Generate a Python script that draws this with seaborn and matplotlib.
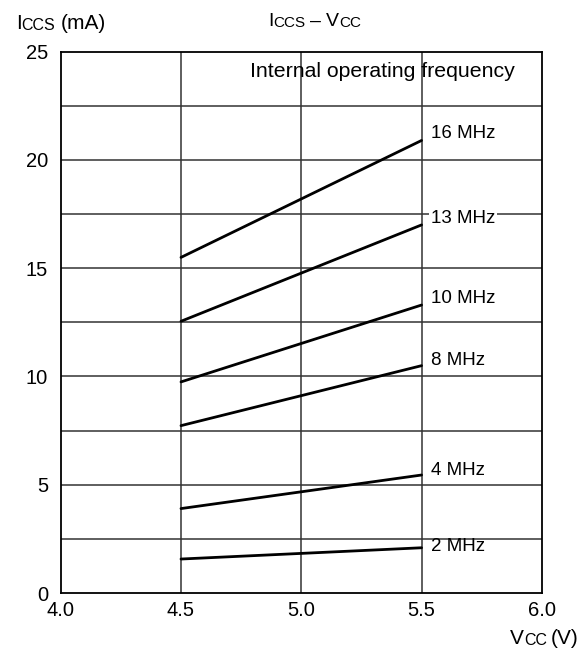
import numpy as np
import pandas as pd
import seaborn as sns
import matplotlib.pyplot as plt

# Данные
vcc = [4.5, 5.5]
freq_labels = ["16 MHz", "13 MHz", "10 MHz", "8 MHz", "4 MHz", "2 MHz"]
iccs_start = [15.5, 12.55, 9.75, 7.73, 3.9, 1.57]
iccs_end = [20.9, 17.0, 13.3, 10.5, 5.45, 2.09]
label_y = [21.2, 17.3, 13.6, 10.75, 5.65, 2.14]

x_ticks = [4.0, 4.5, 5.0, 5.5, 6.0]
y_ticks = [0, 5, 10, 15, 20, 25]

rows = []
for name, a, b in zip(freq_labels, iccs_start, iccs_end):
    rows.append({"Vcc": vcc[0], "Iccs": a, "freq": name})
    rows.append({"Vcc": vcc[1], "Iccs": b, "freq": name})
df = pd.DataFrame(rows)

sns.set_style("white")
plt.rcParams['font.family'] = ['Liberation Sans', 'DejaVu Sans']
plt.rcParams['text.color'] = 'black'


def rich_text(fig, x, y, parts):
    """Текст из кусков разного размера (подстрочные CC, CCS).
    parts: (строка, размер, отступ слева в пунктах)"""
    s0, size0, _ = parts[0]
    t = fig.text(x, y, s0, fontsize=size0, ha="left", va="bottom")
    for s, size, gap in parts[1:]:
        t = fig.add_artist(plt.Annotation(s, xy=(1, 0), xycoords=t,
                                          xytext=(gap, 0), textcoords="offset points",
                                          fontsize=size, ha="left", va="bottom"))
    return t


fig = plt.figure(figsize=(5.82, 6.56), dpi=100)
ax = fig.add_axes([0.1043, 0.096, 0.931 - 0.1043, 0.9212 - 0.096])

# сетка
for gx in [4.5, 5.0, 5.5]:
    ax.axvline(gx, color="#333333", lw=1.1, zorder=1)
for gy in np.arange(2.5, 25, 2.5):
    ax.axhline(gy, color="#333333", lw=1.1, zorder=1)

sns.lineplot(data=df, x="Vcc", y="Iccs", hue="freq",
             palette=["black"] * len(freq_labels), lw=2.0,
             legend=False, ax=ax, zorder=3)

for name, ly in zip(freq_labels, label_y):
    bbox = None
    if name == "13 MHz":
        bbox = dict(facecolor="white", edgecolor="none", pad=1.5)
    ax.text(5.54, ly, name, fontsize=13.5, ha="left", va="center",
            bbox=bbox, zorder=4)

ax.text(4.785, 24.1, "Internal operating frequency", fontsize=15.3,
        ha="left", va="center", zorder=4)

ax.set_xlim(4.0, 6.0)
ax.set_ylim(0, 25)
ax.set_xticks(x_ticks)
ax.set_xticklabels([f"{v:.1f}" for v in x_ticks])
ax.set_yticks(y_ticks)
ax.tick_params(axis="both", length=0, labelsize=14.5, colors="black")
ax.tick_params(axis="y", pad=9)
ax.tick_params(axis="x", pad=6)
ax.set_xlabel("")
ax.set_ylabel("")
for s in ax.spines.values():
    s.set_visible(True)
    s.set_color("black")
    s.set_linewidth(1.3)

W, H = 582, 656
rich_text(fig, 16 / W, 1 - 33 / H,
          [("I", 15, 0), ("CCS", 11.5, 0), ("(mA)", 15, 3.5)])
rich_text(fig, 268 / W, 1 - 30 / H,
          [("I", 14, 0), ("CCS", 11, 0), ("–", 14, 3.5), ("V", 14, 3.5), ("CC", 11, 0)])
rich_text(fig, 510 / W, 1 - 648 / H,
          [("V", 15, 0), ("CC", 11.5, 0), ("(V)", 15, 2.5)])

fig.savefig("out.png", dpi=100)
